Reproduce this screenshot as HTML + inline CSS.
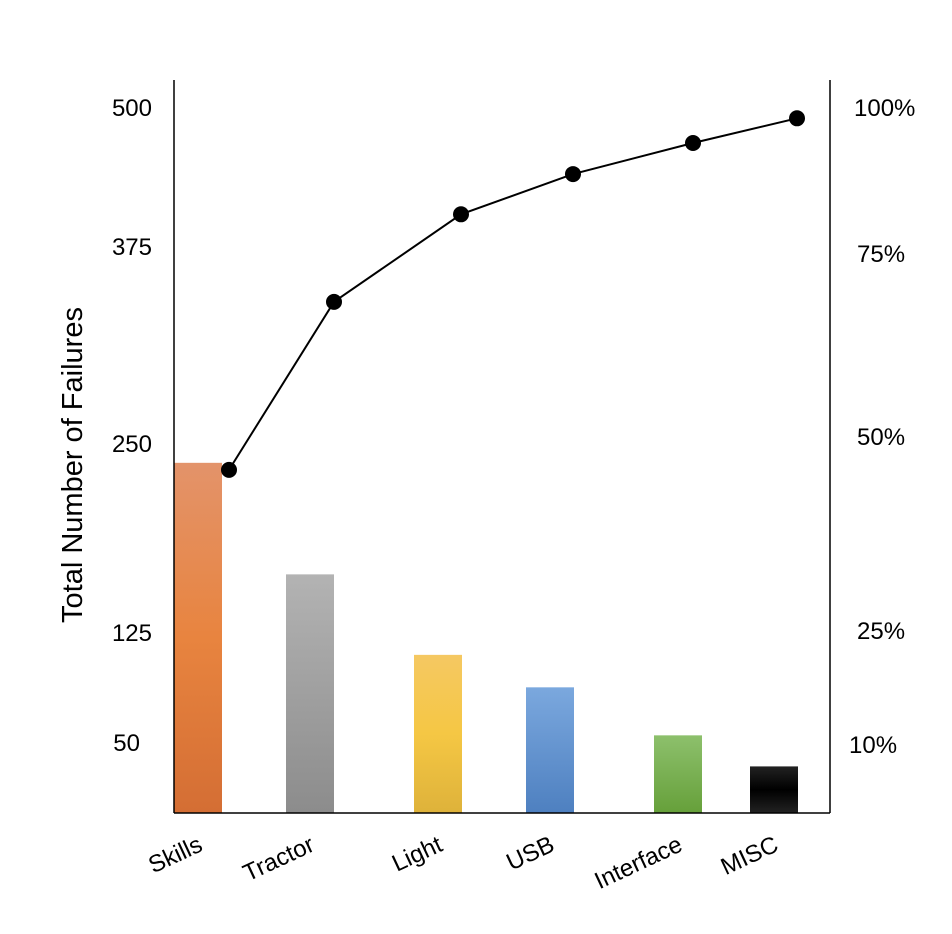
<!DOCTYPE html>
<html><head><meta charset="utf-8"><style>
body{margin:0;background:#fff;}
svg{display:block;font-family:"Liberation Sans",sans-serif;}
</style></head><body>
<svg width="952" height="934">
<defs>
<linearGradient id="g0" x1="0" y1="0" x2="0" y2="1"><stop offset="0" stop-color="#e3936a"/><stop offset="0.5" stop-color="#e8843f"/><stop offset="1" stop-color="#d46e34"/></linearGradient>
<linearGradient id="g1" x1="0" y1="0" x2="0" y2="1"><stop offset="0" stop-color="#b3b3b3"/><stop offset="1" stop-color="#8c8c8c"/></linearGradient>
<linearGradient id="g2" x1="0" y1="0" x2="0" y2="1"><stop offset="0" stop-color="#f5c862"/><stop offset="0.5" stop-color="#f5c744"/><stop offset="1" stop-color="#deb23a"/></linearGradient>
<linearGradient id="g3" x1="0" y1="0" x2="0" y2="1"><stop offset="0" stop-color="#7ba8de"/><stop offset="1" stop-color="#4e80c0"/></linearGradient>
<linearGradient id="g4" x1="0" y1="0" x2="0" y2="1"><stop offset="0" stop-color="#8dc06c"/><stop offset="1" stop-color="#66a03a"/></linearGradient>
<linearGradient id="g5" x1="0" y1="0" x2="0" y2="1"><stop offset="0" stop-color="#222"/><stop offset="0.5" stop-color="#000"/><stop offset="1" stop-color="#222"/></linearGradient>
</defs>
<g id="bars"></g>
<line x1="174" y1="80" x2="174" y2="813" stroke="#000" stroke-width="1.5"/>
<line x1="830" y1="80" x2="830" y2="813" stroke="#000" stroke-width="1.5"/>
<line x1="174" y1="813" x2="830" y2="813" stroke="#000" stroke-width="1.5"/>
<g font-size="24" text-anchor="end">
<text x="152" y="116">500</text><text x="152" y="255">375</text><text x="152" y="452">250</text><text x="152" y="641">125</text><text x="140" y="751">50</text>
</g>
<g font-size="24">
<text x="854" y="116">100%</text><text x="857" y="262">75%</text><text x="857" y="445">50%</text><text x="857" y="639">25%</text><text x="849" y="753">10%</text>
</g>
<text transform="translate(82,465) rotate(-90)" font-size="29" text-anchor="middle">Total Number of Failures</text>
<g id="xlabels" font-size="24" text-anchor="end"></g>
<g id="line"></g>
</svg>
<script>
const categories=["Skills","Tractor","Light","USB","Interface","MISC"];
const failures=[248,169,112,89,55,33];
const cumulativePct=[48.6,72.4,84.8,90.5,94.9,98.4];
const ns="http://www.w3.org/2000/svg";
const base=813, top500=107;
const yL=v=>base-(v/500)*(base-top500);
const yR=p=>base-(p/100)*(base-top500);
const xs=[174,286,414,526,654,750], bw=48;
const bars=document.getElementById('bars');
failures.forEach((v,i)=>{
 const r=document.createElementNS(ns,'rect');
 r.setAttribute('x',xs[i]);r.setAttribute('width',bw);
 r.setAttribute('y',yL(v));r.setAttribute('height',base-yL(v));
 r.setAttribute('fill','url(#g'+i+')');
 
 
 bars.appendChild(r);
});
const xl=document.getElementById('xlabels');
categories.forEach((c,i)=>{
 const t=document.createElementNS(ns,'text');
 const x=xs[i]+bw/2+6,y=850;
 t.setAttribute('transform','translate('+x+','+y+') rotate(-25)');
 t.textContent=c;
 
 
 xl.appendChild(t);
});
const lg=document.getElementById('line');
const off=[31,24,23,23,15,23];
const pts=cumulativePct.map((p,i)=>[xs[i]+bw/2+off[i],yR(p)]);
const pl=document.createElementNS(ns,'polyline');
pl.setAttribute('points',pts.map(p=>p.join(',')).join(' '));
pl.setAttribute('fill','none');pl.setAttribute('stroke','#000');pl.setAttribute('stroke-width','2');


lg.appendChild(pl);
pts.forEach((p,i)=>{
 const c=document.createElementNS(ns,'circle');
 c.setAttribute('cx',p[0]);c.setAttribute('cy',p[1]);c.setAttribute('r',8);
 
 
 lg.appendChild(c);
});
</script>
</body></html>
